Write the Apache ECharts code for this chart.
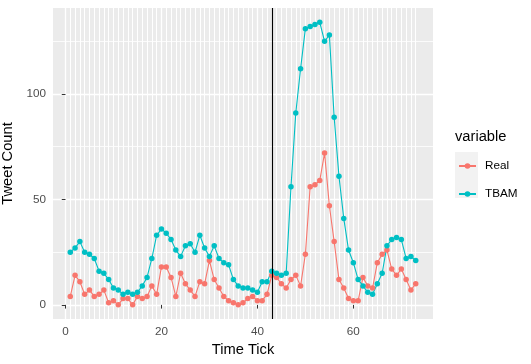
<!DOCTYPE html>
<html>
<head>
<meta charset="utf-8">
<script src="https://cdn.jsdelivr.net/npm/echarts@6/dist/echarts.min.js"></script>
<style>
    html, body { margin: 0; padding: 0; background: #fff; }
    #chart { width: 531px; height: 364px; }
</style>
</head>
<body>
<div id="chart"></div>
<script>
// 数据：时间刻度 1..73
var timeTick = [];
for (var t = 1; t <= 73; t++) timeTick.push(t);
var realCount = [4, 14, 11, 5, 7, 4, 5, 7, 1, 2, 0, 3, 3, 0, 4, 3, 4, 9, 5, 18,
    18, 13, 4, 15, 10, 7, 4, 11, 10, 21, 12, 8, 4, 2, 1, 0, 1, 3, 4, 2,
    2, 5, 14, 13, 10, 8, 12, 14, 9, 24, 56, 57, 59, 72, 47, 30, 12, 8, 3, 2,
    2, 13, 9, 8, 20, 24, 26, 17, 14, 17, 12, 7, 10];
var tbamCount = [25, 27, 30, 25, 24, 22, 16, 15, 12, 8, 7, 5, 6, 5, 6, 9, 13, 22, 33, 36,
    34, 31, 26, 23, 28, 29, 25, 33, 27, 23, 28, 22, 20, 19, 12, 9, 8, 8, 7, 6,
    11, 11, 16, 15, 14, 15, 56, 91, 112, 131, 132, 133, 134, 125, 128, 89, 61, 41, 26, 20,
    12, 9, 6, 5, 10, 15, 28, 31, 32, 31, 22, 23, 21];
var vlineAt = 43;
// 刻度
var xTicks = [0, 20, 40, 60];
var yTicks = [0, 50, 100];
var yMinor = [25, 75, 125];
var xMinor = [];
for (var m = 0; m <= 73; m++) xMinor.push(m);

function pairs(ys) {
    return timeTick.map(function (x, i) { return [x, ys[i]]; });
}

var font = 'Liberation Sans, Arial, sans-serif';
var chart = echarts.init(document.getElementById('chart'), null, {renderer: 'canvas'});
var gridBg = '#EBEBEB';

var option = {
    backgroundColor: '#fff',
    animation: false,
    textStyle: {fontFamily: font},
    title: {
        text: 'variable', left: 455, top: 129, padding: 0,
        textStyle: {fontFamily: font, fontSize: 14.7, fontWeight: 'normal', color: '#000'}
    },
    graphic: [{
        type: 'rect', left: 455, top: 152, z: -1,
        shape: {width: 23, height: 46},
        style: {fill: '#F2F2F2'}
    }],
    legend: {
        orient: 'vertical', left: 458, top: 160, padding: 0,
        itemWidth: 17, itemHeight: 7, itemGap: 16,
        textStyle: {fontFamily: font, fontSize: 11.7, color: '#000', padding: [0, 0, 0, 4]},
        data: ['Real', 'TBAM']
    },
    grid: {
        left: 53, right: 98, top: 8, bottom: 45,
        outerBoundsMode: 'none', containLabel: false,
        show: true, backgroundColor: gridBg, borderWidth: 0
    },
    xAxis: [{
        type: 'value', min: -2.6, max: 76.6,
        name: 'Time Tick', nameLocation: 'middle', nameGap: 22,
        nameTextStyle: {fontFamily: font, fontSize: 14.7, color: '#000'},
        axisLine: {show: false},
        axisTick: {show: true, length: 3.7, lineStyle: {color: '#333', width: 1}, customValues: xTicks},
        axisLabel: {fontFamily: font, fontSize: 11.7, color: '#4D4D4D', margin: 7, customValues: xTicks},
        splitLine: {show: true, lineStyle: {color: '#fff', width: 1.3}}
    }, {
        type: 'value', min: -2.6, max: 76.6, position: 'bottom',
        axisLine: {show: false},
        axisTick: {show: false, customValues: xMinor},
        axisLabel: {show: false, customValues: xMinor},
        splitLine: {show: true, lineStyle: {color: '#fff', width: 1}}
    }],
    yAxis: [{
        type: 'value', min: -6.7, max: 140.8,
        name: 'Tweet Count', nameLocation: 'middle', nameGap: 30, nameRotate: 90,
        nameTextStyle: {fontFamily: font, fontSize: 14.7, color: '#000'},
        axisLine: {show: false},
        axisTick: {show: true, length: 3.7, lineStyle: {color: '#333', width: 1}, customValues: yTicks},
        axisLabel: {fontFamily: font, fontSize: 11.7, color: '#4D4D4D', margin: 7, customValues: yTicks},
        splitLine: {show: true, lineStyle: {color: '#fff', width: 1.3}}
    }, {
        type: 'value', min: -6.7, max: 140.8, position: 'left',
        axisLine: {show: false},
        axisTick: {show: false, customValues: yMinor},
        axisLabel: {show: false, customValues: yMinor},
        splitLine: {show: true, lineStyle: {color: '#fff', width: 0.8}}
    }],
    series: [{
        name: 'Real', type: 'line', xAxisIndex: 0, yAxisIndex: 0,
        data: pairs(realCount),
        symbol: 'circle', symbolSize: 5.5, showAllSymbol: true,
        itemStyle: {color: '#F8766D'},
        lineStyle: {color: '#F8766D', width: 1.1},
        markLine: {
            silent: true, symbol: 'none', label: {show: false},
            lineStyle: {color: '#000', width: 1.1, type: 'solid'},
            data: [{xAxis: vlineAt}]
        }
    }, {
        name: 'TBAM', type: 'line', xAxisIndex: 0, yAxisIndex: 0,
        data: pairs(tbamCount),
        symbol: 'circle', symbolSize: 5.5, showAllSymbol: true,
        itemStyle: {color: '#00BFC4'},
        lineStyle: {color: '#00BFC4', width: 1.1}
    }]
};
chart.setOption(option);
</script>
</body>
</html>
